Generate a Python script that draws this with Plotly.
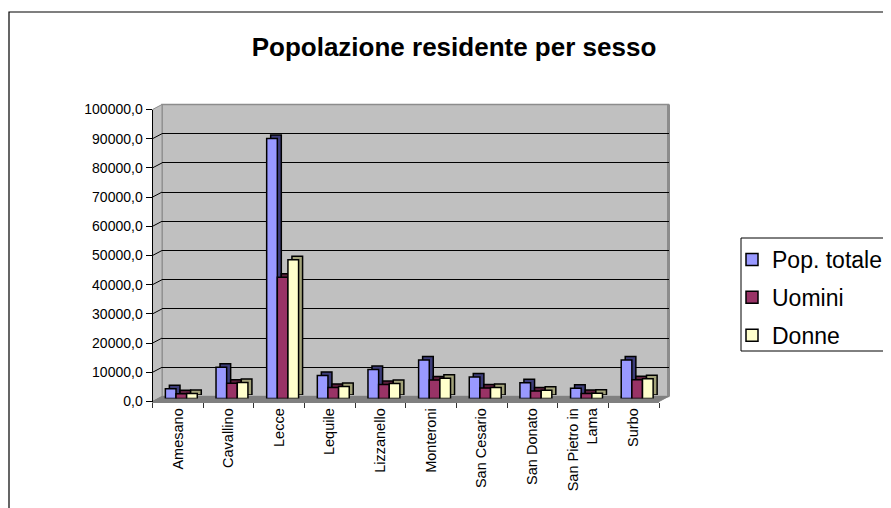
import plotly.graph_objects as go

# ---------------- data ----------------
categories = ["Amesano", "Cavallino", "Lecce", "Lequile", "Lizzanello",
              "Monteroni", "San Cesario", "San Donato", "San Pietro in Lama", "Surbo"]
x_tick_labels = ["Amesano", "Cavallino", "Lecce", "Lequile", "Lizzanello",
                 "Monteroni", "San Cesario", "San Donato", "San Pietro in<br>Lama", "Surbo"]
pop_totale = [3300, 10700, 89000, 7900, 9900, 13200, 7400, 5400, 3500, 13200]
uomini = [1600, 5200, 41500, 3800, 4800, 6300, 3600, 2600, 1700, 6400]
donne = [1700, 5500, 47500, 4100, 5100, 6900, 3800, 2800, 1800, 6800]
series_names = ["Pop. totale", "Uomini", "Donne"]
y_tick_values = [0, 10000, 20000, 30000, 40000, 50000, 60000, 70000, 80000, 90000, 100000]
y_tick_labels = ["0,0", "10000,0", "20000,0", "30000,0", "40000,0", "50000,0",
                 "60000,0", "70000,0", "80000,0", "90000,0", "100000,0"]
title_text = "Popolazione residente per sesso"

# ---------------- styling ----------------
W, H = 891, 508
OFF = 8  # page body margin
FONT = "Liberation Sans, Arial, sans-serif"
front_colors = ["#9999FF", "#993366", "#FFFFCC"]
side_colors = ["#3d3d7a", "#5c1f3d", "#a3a37a"]
YMAX = 100000


def fx(px):
    return (px - OFF) / W


def fy(py):
    return 1 - (py - OFF) / H


# pixel geometry of the pseudo-3D box (screen pixels)
FX0, FX1 = 152.5, 659.0        # front x extent
FY0, FY1 = 401.5, 109.5        # front y: value 0 and value YMAX
DX, DY = 9.5, -5.0             # wall depth offset
BX, BY = 3.5, -3.0             # bars offset (middle depth)
SX, SY = 4.0, -3.5             # bar depth (side/top faces)

fig = go.Figure()

fig.add_trace(go.Scatter(x=categories, y=pop_totale, mode="none", xaxis="x", yaxis="y",
                         showlegend=False, hoverinfo="skip"))

datas = [pop_totale, uomini, donne]
for name, vals, col in zip(series_names, datas, side_colors):
    fig.add_trace(go.Bar(x=categories, y=vals, name=name, xaxis="x2", yaxis="y2",
                         marker=dict(color=col, line=dict(color="black", width=1.5)),
                         showlegend=False, hoverinfo="skip"))
for i, (name, vals, col) in enumerate(zip(series_names, datas, front_colors)):
    fig.add_trace(go.Bar(x=categories, y=vals, name=name, xaxis="x3", yaxis="y3",
                         legendgroup=f"g{i}",
                         marker=dict(color=col, line=dict(color="black", width=1.5))))

fig.add_trace(go.Scatter(x=x_tick_labels, y=pop_totale, mode="none", xaxis="x4", yaxis="y4",
                         showlegend=False, hoverinfo="skip"))

hidden = dict(visible=False, fixedrange=True)

fig.update_layout(
    width=W, height=H, autosize=False,
    margin=dict(l=0, r=0, t=0, b=0, pad=0, autoexpand=False),
    paper_bgcolor="white", plot_bgcolor="rgba(0,0,0,0)",
    font=dict(family=FONT, color="black", size=14),
    barmode="group", bargap=0.37, bargroupgap=0.0,
    title=dict(text=f"<b>{title_text}</b>", x=fx(454), y=fy(47),
               xanchor="center", yanchor="middle", font=dict(size=26, family=FONT)),
    showlegend=True,
    legend=dict(x=fx(732), y=fy(238), xanchor="left", yanchor="top",
                borderwidth=0, bgcolor="rgba(0,0,0,0)",
                font=dict(size=23, family=FONT), traceorder="grouped",
                tracegroupgap=5, itemwidth=30),
    xaxis=dict(domain=[fx(FX0 + DX), fx(FX1 + DX)], anchor="y", visible=False,
               range=[-0.5, 9.5]),
    yaxis=dict(domain=[fy(FY0 + DY), fy(FY1 + DY)], anchor="x", range=[0, YMAX],
               tickmode="array", tickvals=y_tick_values[1:-1], showticklabels=False,
               ticks="", showgrid=True, gridcolor="black", gridwidth=1,
               zeroline=False, showline=False),
    xaxis2=dict(domain=[fx(FX0 + BX + SX), fx(FX1 + BX + SX)], anchor="y2",
                range=[-0.5, 9.5], **hidden),
    yaxis2=dict(domain=[fy(FY0 + BY + SY), fy(FY1 + BY + SY)], anchor="x2",
                range=[0, YMAX], **hidden),
    xaxis3=dict(domain=[fx(FX0 + BX), fx(FX1 + BX)], anchor="y3",
                range=[-0.5, 9.5], **hidden),
    yaxis3=dict(domain=[fy(FY0 + BY), fy(FY1 + BY)], anchor="x3",
                range=[0, YMAX], **hidden),
    xaxis4=dict(domain=[fx(FX0), fx(FX1)], anchor="y4", range=[-0.5, 9.5],
                tickson="boundaries", ticks="outside", ticklen=5, tickcolor="#333333",
                tickangle=-90, tickfont=dict(size=14.5, family=FONT),
                showline=True, linecolor="#808080", linewidth=1,
                showgrid=False, zeroline=False, fixedrange=True),
    yaxis4=dict(domain=[fy(FY0), fy(FY1)], anchor="x4", range=[0, YMAX],
                tickmode="array", tickvals=y_tick_values, ticktext=y_tick_labels,
                ticks="outside", ticklen=6, tickcolor="black",
                tickfont=dict(size=14, family=FONT),
                showline=True, linecolor="black", linewidth=1,
                showgrid=False, zeroline=False, fixedrange=True),
)

shapes = []
shapes.append(dict(type="rect", xref="paper", yref="paper", x0=fx(9), y0=fy(530),
                   x1=fx(910), y1=fy(12), line=dict(color="black", width=1.2),
                   fillcolor="rgba(0,0,0,0)", layer="below"))
# legend border
shapes.append(dict(type="rect", xref="paper", yref="paper", x0=fx(741), y0=fy(351),
                   x1=fx(888), y1=fy(238), line=dict(color="black", width=1),
                   fillcolor="white", layer="below"))
# back wall
shapes.append(dict(type="rect", xref="paper", yref="paper",
                   x0=fx(FX0 + DX), x1=fx(FX1 + DX), y0=fy(FY0 + DY), y1=fy(FY1 + DY),
                   fillcolor="#C0C0C0", line=dict(color="#8c8c8c", width=1.5), layer="below"))
shapes.append(dict(type="line", xref="paper", yref="paper",
                   x0=fx(FX1 + DX), x1=fx(FX1 + DX), y0=fy(FY0 + DY), y1=fy(FY1 + DY),
                   line=dict(color="#8c8c8c", width=3), layer="below"))
side_path = (f"M {fx(FX0)},{fy(FY0)} L {fx(FX0)},{fy(FY1)} "
             f"L {fx(FX0 + DX)},{fy(FY1 + DY)} L {fx(FX0 + DX)},{fy(FY0 + DY)} Z")
shapes.append(dict(type="path", xref="paper", yref="paper", path=side_path,
                   fillcolor="#C0C0C0", line=dict(color="#8c8c8c", width=1), layer="below"))
floor_path = (f"M {fx(FX0)},{fy(FY0)} L {fx(FX1)},{fy(FY0)} "
              f"L {fx(FX1 + DX)},{fy(FY0 + DY)} L {fx(FX0 + DX)},{fy(FY0 + DY)} Z")
shapes.append(dict(type="path", xref="paper", yref="paper", path=floor_path,
                   fillcolor="#808080", line=dict(color="#808080", width=1), layer="below"))
for v in y_tick_values[1:-1]:
    yf = FY0 + (FY1 - FY0) * v / YMAX
    shapes.append(dict(type="line", xref="paper", yref="paper",
                       x0=fx(FX0), y0=fy(yf), x1=fx(FX0 + DX), y1=fy(yf + DY),
                       line=dict(color="black", width=1), layer="below"))
fig.update_layout(shapes=shapes)

fig.write_html("out.html")
